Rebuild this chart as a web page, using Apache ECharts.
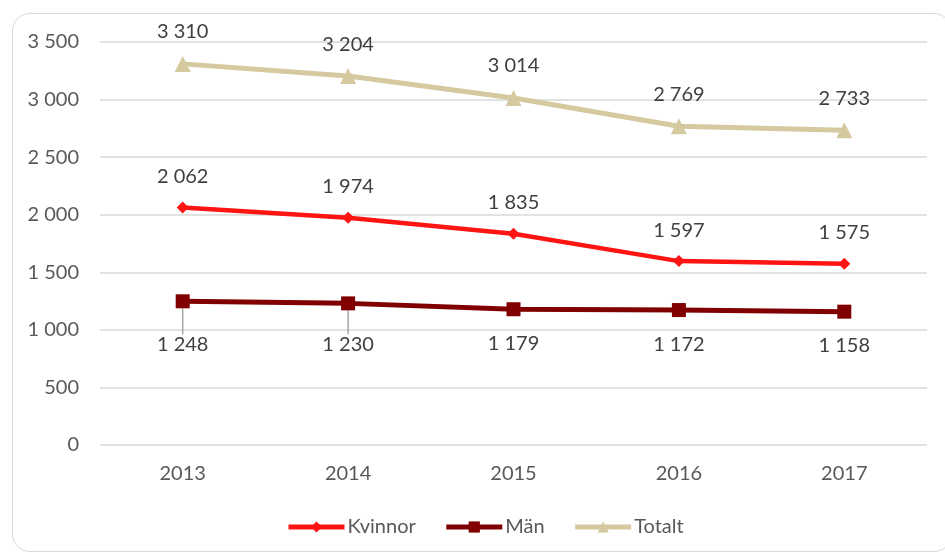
<!DOCTYPE html>
<html><head><meta charset="utf-8">
<script src="https://cdn.jsdelivr.net/npm/echarts@6/dist/echarts.min.js"></script>
<style>
html,body{margin:0;padding:0;background:#fff;}
#frame{position:absolute;left:12px;top:13px;width:940px;height:539px;border:1.5px solid #d9d9d9;border-radius:18px;box-sizing:border-box;}
#chart{position:absolute;left:0;top:0;width:945px;height:556px;}
</style></head>
<body>
<div id="frame"></div>
<div id="chart"></div>
<script>
const years = ['2013','2014','2015','2016','2017'];
const kvinnor = [2062, 1974, 1835, 1597, 1575];
const man = [1248, 1230, 1179, 1172, 1158];
const totalt = [3310, 3204, 3014, 2769, 2733];
const yTicks = [0, 500, 1000, 1500, 2000, 2500, 3000, 3500];

const fmt = v => String(v).replace(/\B(?=(\d{3})+(?!\d))/g, ' ');
const FONT = 'Lato';
const FS = 20;
const labelStyle = {color:'#404040', fontSize:FS, fontFamily:FONT, formatter:p=>fmt(p.value)};

const chart = echarts.init(document.getElementById('chart'));
chart.setOption({
  animation:false,
  grid:{left:100, right:18, top:42, bottom:111},
  legend:{
    bottom:14, left:281, itemWidth:56, itemHeight:14, itemGap:28,
    lineStyle:{width:5},
    textStyle:{color:'#595959', fontSize:FS, fontFamily:FONT, padding:[0,0,0,-2]},
    data:['Kvinnor','Män','Totalt']
  },
  xAxis:{
    type:'category', data:years, boundaryGap:true,
    axisLine:{show:false}, axisTick:{show:false},
    axisLabel:{color:'#595959', fontSize:FS, fontFamily:FONT, margin:19}
  },
  yAxis:{
    type:'value', min:yTicks[0], max:yTicks[yTicks.length-1], interval:500,
    axisLine:{show:false}, axisTick:{show:false},
    splitLine:{lineStyle:{color:'#d9d9d9', width:1.5}},
    axisLabel:{color:'#595959', fontSize:FS, fontFamily:FONT, margin:21, formatter:v=>fmt(v)}
  },
  series:[
    {name:'Kvinnor', type:'line', data:kvinnor, symbol:'diamond', symbolSize:12,
     lineStyle:{color:'#ff1414', width:4.5}, itemStyle:{color:'#ff1414'},
     label:Object.assign({show:true, position:'top', distance:15}, labelStyle)},
    {name:'Män', type:'line',
     data:man.map((v,i)=>({value:v, labelLine:{show:i<2}})),
     symbol:'rect', symbolSize:14,
     lineStyle:{color:'#800000', width:5}, itemStyle:{color:'#800000'},
     label:Object.assign({show:true, position:'bottom', distance:17}, labelStyle),
     labelLine:{lineStyle:{color:'#a6a6a6', width:1.5}},
     labelLayout:function(p){ return p.dataIndex === 0 ? {dy:9} : p.dataIndex === 1 ? {dy:7} : {}; }
    },
    {name:'Totalt', type:'line', data:totalt, symbol:'triangle', symbolSize:16,
     lineStyle:{color:'#d5c9a0', width:5}, itemStyle:{color:'#d5c9a0'},
     label:Object.assign({show:true, position:'top', distance:14}, labelStyle)}
  ]
});
</script>
</body></html>
